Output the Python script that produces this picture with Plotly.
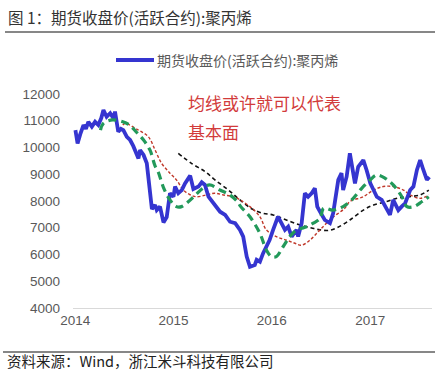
import plotly.graph_objects as go

# Blue: futures close price (active contract), polypropylene
price_dates = ["2014-01-02","2014-01-10","2014-01-20","2014-02-01","2014-02-10","2014-02-19","2014-03-04","2014-03-16","2014-03-28",
               "2014-04-08","2014-04-16","2014-04-28","2014-05-11","2014-05-23","2014-05-29","2014-06-10","2014-06-20","2014-06-29",
               "2014-07-12","2014-07-24","2014-08-05","2014-08-12","2014-08-24","2014-08-30","2014-09-12","2014-09-24","2014-09-30",
               "2014-10-06","2014-10-13","2014-10-25","2014-10-31","2014-11-12","2014-11-25","2014-12-07","2014-12-19","2015-01-01",
               "2015-01-07","2015-01-19","2015-02-01","2015-02-13","2015-03-04","2015-03-16","2015-04-04","2015-04-16","2015-04-28",
               "2015-05-11","2015-05-29","2015-06-11","2015-06-23","2015-07-12","2015-07-30","2015-08-18","2015-09-05","2015-09-17",
               "2015-09-30","2015-10-12","2015-10-30","2015-11-06","2015-11-18","2015-11-30","2015-12-12","2015-12-24","2016-01-06",
               "2016-01-18","2016-01-24","2016-02-06","2016-02-19","2016-03-02","2016-03-15","2016-04-02","2016-04-08","2016-04-21",
               "2016-05-03","2016-05-15","2016-05-28","2016-06-09","2016-06-18","2016-06-28","2016-07-16","2016-08-04","2016-08-16",
               "2016-09-04","2016-09-16","2016-09-22","2016-10-05","2016-10-17","2016-10-30","2016-11-05","2016-11-17","2016-12-06",
               "2016-12-18","2017-01-01","2017-01-13","2017-01-25","2017-02-12","2017-03-03","2017-03-15","2017-03-27","2017-04-15",
               "2017-04-28","2017-05-10","2017-05-29","2017-06-10","2017-06-23","2017-07-05","2017-07-17","2017-07-30","2017-08-08"]
price_values = [10650,10150,10500,10840,10700,10960,10780,10960,10840,
                11100,11400,11150,11280,11090,11340,10590,10700,10650,
                10400,10280,10050,9900,9590,9900,9720,9410,8790,
                8160,7700,7850,7660,7790,7200,7400,8290,8160,
                8540,8290,8410,8660,8950,8450,8540,8700,8600,
                8160,7910,7750,7600,7480,7225,7170,6920,6670,
                5920,5540,5610,5800,5730,6050,6290,6540,6920,
                7290,7410,7170,6920,7040,6670,6920,6670,7170,
                8290,8160,8290,8480,7790,7600,7290,7170,7540,
                8790,9040,8410,8910,9780,8910,8660,9280,9530,
                9160,8660,8410,8160,8040,7660,7480,8040,7660,
                7800,7910,8410,8540,9160,9530,9160,8790,8900]

# Green dashed: short moving average
ma_short_dates = ["2014-04-05","2014-04-16","2014-05-20","2014-06-27","2014-07-22","2014-08-15","2014-09-12","2014-10-06","2014-10-25",
                  "2014-11-05","2014-11-25","2014-12-19","2015-01-12","2015-01-31","2015-02-26","2015-03-24","2015-04-20","2015-05-15",
                  "2015-06-23","2015-07-30","2015-08-26","2015-09-08","2015-10-12","2015-11-18","2015-12-12","2015-12-31","2016-01-18",
                  "2016-02-12","2016-03-08","2016-04-02","2016-04-21","2016-05-09","2016-06-03","2016-06-28","2016-07-12","2016-08-15",
                  "2016-09-22","2016-10-24","2016-11-30","2017-01-01","2017-01-25","2017-02-25","2017-03-27","2017-04-28","2017-05-17",
                  "2017-06-12","2017-07-12","2017-08-06"]
ma_short_values = [10650,10900,11030,10960,10840,10590,10280,9900,9300,
                   9100,8500,8040,7790,7790,7980,8225,8475,8600,
                   8410,8225,7980,7790,7410,6790,6170,5920,5920,
                   6290,6670,6920,6980,7040,7170,7350,7730,7660,
                   7790,8040,8475,8790,8970,8850,8600,8160,7790,
                   7790,7980,8160,8660]

# Red dotted: medium moving average
ma_mid_dates = ["2014-06-27","2014-07-05","2014-08-24","2014-09-30","2014-10-25","2014-11-18","2014-12-19","2015-01-12","2015-02-07",
                "2015-03-01","2015-03-28","2015-05-03","2015-06-03","2015-07-06","2015-08-12","2015-09-05","2015-10-12","2015-11-18",
                "2015-12-12","2016-01-18","2016-02-24","2016-03-27","2016-04-21","2016-05-22","2016-06-28","2016-08-10","2016-09-28",
                "2016-10-17","2016-12-06","2017-01-13","2017-02-18","2017-03-27","2017-05-04","2017-05-29","2017-07-05","2017-08-06"]
ma_mid_values = [10840,10900,10650,10400,9900,9410,9040,8790,8410,
                 8250,8160,8225,8290,8225,8160,8040,7790,7410,
                 6920,6670,6540,6420,6350,6540,6920,7350,7730,
                 7980,8160,8410,8540,8540,8410,8225,8100,8225]

# Black dotted: long moving average
ma_long_dates = ["2015-01-19","2015-03-10","2015-04-28","2015-06-04","2015-07-24","2015-09-05","2015-10-20","2015-11-30","2016-01-06",
                 "2016-02-24","2016-04-15","2016-05-28","2016-06-28","2016-07-30","2016-08-28","2016-10-17","2016-12-06","2017-01-13",
                 "2017-03-03","2017-04-10","2017-05-22","2017-07-05","2017-08-06"]
ma_long_values = [9780,9400,9100,8790,8410,8040,7700,7540,7480,
                  7290,7100,6990,6920,6900,6990,7290,7660,7850,
                  7980,8100,8160,8225,8410]

year_ticks = ["2014-01-01", "2015-01-01", "2016-01-01", "2017-01-01"]
year_labels = ["2014", "2015", "2016", "2017"]

title_text = "图 1：期货收盘价(活跃合约):聚丙烯"
series_name = "期货收盘价(活跃合约):聚丙烯"
note_lines = ["均线或许就可以代表", "基本面"]
source_text = "资料来源：Wind，浙江米斗科技有限公司"

CJK = "Noto Sans CJK SC"
PW, PH = 359, 214  # plot area size in px

def px_x(x):
    return (x - 73) / PW

def px_y(y):
    return (308 - y) / PH

fig = go.Figure()
fig.add_trace(go.Scatter(x=ma_long_dates, y=ma_long_values, mode="lines", showlegend=False,
                         line=dict(color="#111111", width=1.6, dash="4px,3px", shape="spline")))
fig.add_trace(go.Scatter(x=ma_mid_dates, y=ma_mid_values, mode="lines", showlegend=False,
                         line=dict(color="#c0392b", width=1.4, dash="3px,2px", shape="spline")))
fig.add_trace(go.Scatter(x=price_dates, y=price_values, mode="lines", showlegend=False,
                         line=dict(color="#3535d0", width=3.8)))
fig.add_trace(go.Scatter(x=ma_short_dates, y=ma_short_values, mode="lines", showlegend=False,
                         line=dict(color="#22995a", width=3.2, dash="8px,5px", shape="spline")))

fig.update_layout(
    width=435, height=371,
    margin=dict(l=73, r=3, t=94, b=63, autoexpand=False),
    paper_bgcolor="white", plot_bgcolor="white",
    font=dict(family="Liberation Sans, " + CJK, size=13, color="#595959"),
    showlegend=False,
    xaxis=dict(type="date", range=["2013-12-24", "2017-08-18"], automargin=False,
               tickvals=year_ticks, ticktext=year_labels, showgrid=False,
               showline=True, linecolor="#d9d9d9", linewidth=1, ticks="",
               tickfont=dict(size=13.5, color="#595959"), zeroline=False),
    yaxis=dict(range=[4000, 12000], dtick=1000, tick0=4000, tickformat="d", automargin=False,
               showgrid=False, showline=False,
               ticks="", zeroline=False, ticklabelstandoff=12,
               tickfont=dict(size=13.5, color="#595959")),
)

# manual legend
fig.add_shape(type="line", xref="paper", yref="paper", x0=px_x(116), x1=px_x(154),
              y0=px_y(60), y1=px_y(60), line=dict(color="#3535d0", width=4))
fig.add_annotation(text=series_name, xref="paper", yref="paper", x=px_x(155), y=px_y(60),
                   xanchor="left", yanchor="middle", showarrow=False,
                   font=dict(family=CJK, size=14, color="#595959"))

fig.add_annotation(text=title_text, xref="paper", yref="paper", x=px_x(6), y=px_y(17),
                   xanchor="left", yanchor="middle", showarrow=False,
                   font=dict(family=CJK, size=15.5, color="#333333"))
fig.add_shape(type="line", xref="paper", yref="paper", x0=px_x(5), x1=px_x(435),
              y0=px_y(32), y1=px_y(32), line=dict(color="#111111", width=1.2))
fig.add_annotation(text=note_lines[0], xref="paper", yref="paper", x=px_x(186), y=px_y(103),
                   xanchor="left", yanchor="middle", showarrow=False,
                   font=dict(family=CJK, size=17, color="#d23b3b"))
fig.add_annotation(text=note_lines[1], xref="paper", yref="paper", x=px_x(186), y=px_y(131),
                   xanchor="left", yanchor="middle", showarrow=False,
                   font=dict(family=CJK, size=17, color="#d23b3b"))
fig.add_shape(type="line", xref="paper", yref="paper", x0=px_x(3), x1=px_x(435),
              y0=px_y(352), y1=px_y(352), line=dict(color="#111111", width=1.2))
fig.add_annotation(text=source_text, xref="paper", yref="paper", x=px_x(5), y=px_y(360),
                   xanchor="left", yanchor="middle", showarrow=False,
                   font=dict(family=CJK, size=14.5, color="#222222"))

fig.write_html("out.html", config={"displayModeBar": False},
               post_script="document.body.style.margin='0';document.body.style.overflow='hidden';")
